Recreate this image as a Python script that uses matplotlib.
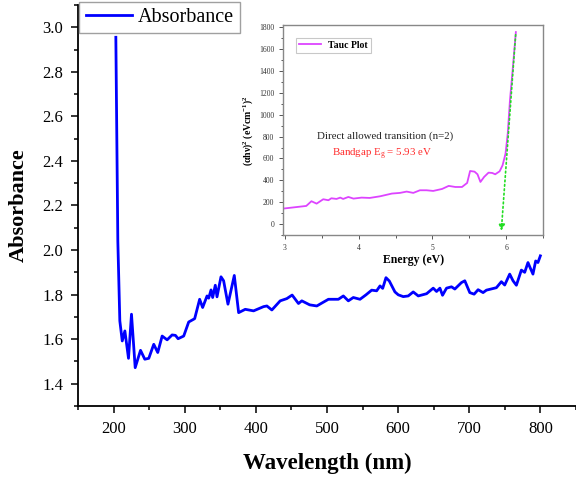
import numpy as np
import matplotlib
matplotlib.use("Agg")
import matplotlib.pyplot as plt
from matplotlib.ticker import MultipleLocator

plt.rcParams['font.family'] = ['Liberation Serif', 'DejaVu Serif']
plt.rcParams['mathtext.fontset'] = 'custom'
plt.rcParams['mathtext.rm'] = 'Liberation Serif'
plt.rcParams['mathtext.bf'] = 'Liberation Serif:bold'
plt.rcParams['mathtext.it'] = 'Liberation Serif:italic'

# main absorbance spectrum
wavelength = [203.2, 206.0, 208.8, 212.2, 215.9, 221.0, 225.2, 230.4, 237.9, 243.9,
              249.5, 256.5, 262.1, 268.3, 275.3, 282.3, 287.0, 290.7, 298.6, 305.6,
              314.0, 321.0, 325.2, 331.4, 333.7, 337.0, 339.3, 343.0, 345.4, 351.0,
              354.7, 360.8, 369.7, 375.8, 385.1, 396.8, 410.8, 415.5, 422.5, 434.2,
              443.5, 451.0, 459.9, 464.6, 475.7, 485.7, 492.7, 502.0, 516.0, 523.0,
              530.0, 537.0, 546.4, 554.8, 562.8, 569.8, 574.5, 578.3, 582.9, 587.6,
              595.5, 600.2, 607.2, 614.2, 621.2, 628.3, 640.0, 649.3, 654.0, 658.7,
              662.4, 668.0, 675.0, 679.7, 689.0, 693.7, 700.7, 706.8, 712.4, 719.4,
              724.1, 738.1, 745.1, 749.8, 756.8, 761.5, 766.2, 773.2, 777.9, 782.5,
              785.5, 789.5, 793.3, 796.5, 799.9]
absorbance = [2.955, 2.04, 1.682, 1.592, 1.637, 1.514, 1.712, 1.472, 1.55, 1.51,
              1.514, 1.577, 1.54, 1.614, 1.597, 1.619, 1.617, 1.602, 1.614, 1.677,
              1.692, 1.779, 1.742, 1.794, 1.784, 1.821, 1.787, 1.842, 1.79, 1.88,
              1.862, 1.757, 1.886, 1.719, 1.734, 1.727, 1.746, 1.749, 1.731, 1.772,
              1.782, 1.798, 1.76, 1.772, 1.754, 1.749, 1.762, 1.779, 1.779, 1.794,
              1.772, 1.787, 1.779, 1.799, 1.82, 1.817, 1.839, 1.828, 1.876, 1.861,
              1.812, 1.799, 1.791, 1.794, 1.812, 1.794, 1.804, 1.829, 1.814, 1.829,
              1.797, 1.829, 1.835, 1.825, 1.854, 1.862, 1.809, 1.802, 1.822, 1.809,
              1.82, 1.831, 1.858, 1.843, 1.892, 1.862, 1.842, 1.91, 1.9, 1.944,
              1.921, 1.892, 1.951, 1.944, 1.974]

# Tauc plot (inset)
energy = [2.98, 3.29, 3.36, 3.43, 3.52, 3.59, 3.63, 3.70, 3.75, 3.79,
          3.86, 3.93, 4.04, 4.15, 4.29, 4.45, 4.56, 4.65, 4.74, 4.83,
          4.92, 5.01, 5.13, 5.22, 5.31, 5.40, 5.47, 5.51, 5.57, 5.61,
          5.65, 5.70, 5.76, 5.81, 5.85, 5.91, 5.95, 5.99, 6.02, 6.05,
          6.09, 6.13]
tauc = [143, 167, 210, 188, 228, 219, 237, 231, 243, 231,
        249, 234, 243, 240, 255, 280, 286, 298, 286, 310,
        310, 304, 322, 350, 340, 340, 377, 486, 480, 456,
        386, 432, 471, 468, 456, 483, 538, 644, 827, 1131,
        1435, 1754]

# linear fit line for the band gap (arrow)
fit_start = (6.13, 1755)
fit_end = (5.93, -85)

fig = plt.figure(figsize=(5.76, 4.79), dpi=100)
ax = fig.add_axes([0.1354, 0.1524, 0.8646, 0.8372])
ax.plot(wavelength, absorbance, color='#0000ff', lw=2.0, label='Absorbance',
        solid_joinstyle='round')
ax.set_xlim(150, 850)
ax.set_ylim(1.3, 3.1)
ax.xaxis.set_major_locator(MultipleLocator(100))
ax.xaxis.set_minor_locator(MultipleLocator(50))
ax.yaxis.set_major_locator(MultipleLocator(0.2))
ax.yaxis.set_minor_locator(MultipleLocator(0.1))
ax.set_xticks([200, 300, 400, 500, 600, 700, 800])
ax.tick_params(which='both', direction='out', labelsize=12, width=1.1, pad=5.5)
ax.tick_params(which='major', length=5)
ax.tick_params(which='minor', length=3)
ax.spines['top'].set_visible(False)
ax.spines['right'].set_visible(False)
for s in ['left', 'bottom']:
    ax.spines[s].set_linewidth(1.3)
ax.set_xlabel('Wavelength (nm)', fontsize=16.5, fontweight='bold', labelpad=12)
ax.set_ylabel('Absorbance', fontsize=16, fontweight='bold', labelpad=10)
leg = ax.legend(loc='upper left', bbox_to_anchor=(0.003, 1.008), fontsize=14.5,
                frameon=True, fancybox=False, edgecolor='#888888',
                handlelength=2.3, borderpad=0.3, borderaxespad=0, handletextpad=0.3)
leg.get_frame().set_linewidth(1.0)

# inset with Tauc plot
ins = fig.add_axes([0.492, 0.509, 0.451, 0.438])
ins.plot(energy, tauc, color='#dd44ff', lw=1.3, label='Tauc Plot')
ins.annotate('', xy=fit_end, xytext=fit_start,
             arrowprops=dict(arrowstyle='-|>', color='#22dd22', lw=1.2,
                             linestyle=':', mutation_scale=9))
ins.set_xlim(2.98, 6.5)
ins.set_ylim(-100, 1815)
ins.xaxis.set_major_locator(MultipleLocator(1))
ins.xaxis.set_minor_locator(MultipleLocator(0.5))
ins.yaxis.set_major_locator(MultipleLocator(200))
ins.yaxis.set_minor_locator(MultipleLocator(100))
ins.tick_params(which='both', direction='out', labelsize=5.5, color='#555555', width=0.7,
                labelcolor='#333333')
ins.tick_params(which='major', length=3)
ins.tick_params(which='minor', length=1.8)
for s in ins.spines.values():
    s.set_color('#888888')
    s.set_linewidth(1.0)
ins.set_xlabel('Energy (eV)', fontsize=8.5, fontweight='bold', labelpad=1)
ins.set_ylabel(r'$\mathbf{(\alpha h\nu)^2\ (eVcm^{-1})^2}$', fontsize=7, labelpad=3)
ins.text(0.393, 0.471, 'Direct allowed transition (n=2)', transform=ins.transAxes,
         fontsize=7.8, ha='center', va='center', color='#222222')
ins.text(0.378, 0.386, r'Bandgap E$_\mathrm{g}$ = 5.93 eV', transform=ins.transAxes,
         fontsize=7.8, ha='center', va='center', color='#ff2a2a')
ileg = ins.legend(loc='upper left', bbox_to_anchor=(0.05, 0.94),
                  prop={'weight': 'bold', 'size': 7}, frameon=True, fancybox=False,
                  edgecolor='#bbbbbb', handlelength=2.2, borderpad=0.3, borderaxespad=0)
ileg.get_frame().set_linewidth(0.8)

fig.savefig('out.png', dpi=100)
